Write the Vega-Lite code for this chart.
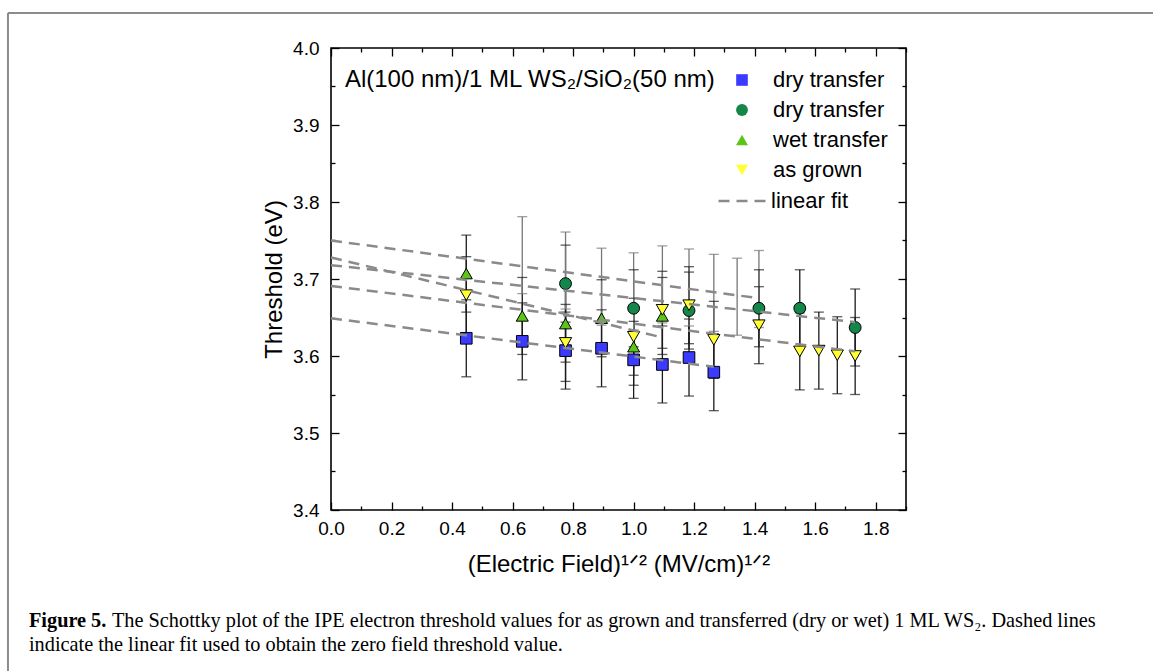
{
  "$schema": "https://vega.github.io/schema/vega-lite/v6.json",
  "width": 575,
  "height": 462,
  "autosize": {"type": "none"},
  "padding": {"left": 331, "top": 48, "right": 247, "bottom": 161},
  "background": "white",
  "config": {
    "view": {"stroke": "black", "strokeWidth": 1.6},
    "axis": {"grid": false, "domain": false, "labelFont": "Liberation Sans", "titleFont": "Liberation Sans", "labelColor": "black", "titleColor": "black", "tickColor": "black", "tickWidth": 1.3, "labelFontSize": 19, "titleFontSize": 24, "titleFontWeight": "normal", "labelFlush": false, "labelOverlap": false, "labelBound": false},
    "legend": {"labelFont": "Liberation Sans", "labelFontSize": 22, "labelColor": "black", "padding": 0},
    "text": {"font": "Liberation Sans"}
  },
  "datasets": {
    "points": [
      {"series": "dry transfer A", "x": 0.447, "y": 3.623},
      {"series": "dry transfer A", "x": 0.632, "y": 3.619},
      {"series": "dry transfer A", "x": 0.775, "y": 3.607},
      {"series": "dry transfer A", "x": 0.894, "y": 3.610},
      {"series": "dry transfer A", "x": 1.0, "y": 3.595},
      {"series": "dry transfer A", "x": 1.095, "y": 3.589},
      {"series": "dry transfer A", "x": 1.183, "y": 3.598},
      {"series": "dry transfer A", "x": 1.265, "y": 3.579},
      {"series": "dry transfer B", "x": 0.775, "y": 3.694},
      {"series": "dry transfer B", "x": 1.0, "y": 3.662},
      {"series": "dry transfer B", "x": 1.183, "y": 3.659},
      {"series": "dry transfer B", "x": 1.414, "y": 3.662},
      {"series": "dry transfer B", "x": 1.549, "y": 3.662},
      {"series": "dry transfer B", "x": 1.732, "y": 3.637},
      {"series": "wet transfer", "x": 0.447, "y": 3.707},
      {"series": "wet transfer", "x": 0.632, "y": 3.652},
      {"series": "wet transfer", "x": 0.775, "y": 3.642},
      {"series": "wet transfer", "x": 0.894, "y": 3.649},
      {"series": "wet transfer", "x": 1.0, "y": 3.612},
      {"series": "wet transfer", "x": 1.095, "y": 3.652},
      {"series": "as grown", "x": 0.447, "y": 3.679},
      {"series": "as grown", "x": 0.775, "y": 3.617},
      {"series": "as grown", "x": 1.0, "y": 3.625},
      {"series": "as grown", "x": 1.095, "y": 3.660},
      {"series": "as grown", "x": 1.183, "y": 3.666},
      {"series": "as grown", "x": 1.265, "y": 3.621},
      {"series": "as grown", "x": 1.414, "y": 3.640},
      {"series": "as grown", "x": 1.549, "y": 3.606},
      {"series": "as grown", "x": 1.612, "y": 3.607},
      {"series": "as grown", "x": 1.673, "y": 3.601},
      {"series": "as grown", "x": 1.732, "y": 3.600}
    ],
    "bars": [
      {"kind": "marker", "x": 0.447, "lo": 3.573, "hi": 3.673},
      {"kind": "marker", "x": 0.632, "lo": 3.569, "hi": 3.669},
      {"kind": "marker", "x": 0.775, "lo": 3.557, "hi": 3.657},
      {"kind": "marker", "x": 0.894, "lo": 3.560, "hi": 3.660},
      {"kind": "marker", "x": 1.0, "lo": 3.545, "hi": 3.645},
      {"kind": "marker", "x": 1.095, "lo": 3.539, "hi": 3.639},
      {"kind": "marker", "x": 1.183, "lo": 3.548, "hi": 3.648},
      {"kind": "marker", "x": 1.265, "lo": 3.529, "hi": 3.629},
      {"kind": "marker", "x": 0.775, "lo": 3.644, "hi": 3.744},
      {"kind": "marker", "x": 1.0, "lo": 3.612, "hi": 3.712},
      {"kind": "marker", "x": 1.183, "lo": 3.609, "hi": 3.709},
      {"kind": "marker", "x": 1.414, "lo": 3.612, "hi": 3.712},
      {"kind": "marker", "x": 1.549, "lo": 3.612, "hi": 3.712},
      {"kind": "marker", "x": 1.732, "lo": 3.587, "hi": 3.687},
      {"kind": "marker", "x": 0.447, "lo": 3.657, "hi": 3.757},
      {"kind": "marker", "x": 0.632, "lo": 3.602, "hi": 3.702},
      {"kind": "marker", "x": 0.775, "lo": 3.592, "hi": 3.692},
      {"kind": "marker", "x": 0.894, "lo": 3.599, "hi": 3.699},
      {"kind": "marker", "x": 1.0, "lo": 3.562, "hi": 3.662},
      {"kind": "marker", "x": 1.095, "lo": 3.602, "hi": 3.702},
      {"kind": "marker", "x": 0.447, "lo": 3.629, "hi": 3.729},
      {"kind": "marker", "x": 0.775, "lo": 3.567, "hi": 3.667},
      {"kind": "marker", "x": 1.0, "lo": 3.575, "hi": 3.675},
      {"kind": "marker", "x": 1.095, "lo": 3.610, "hi": 3.710},
      {"kind": "marker", "x": 1.183, "lo": 3.616, "hi": 3.716},
      {"kind": "marker", "x": 1.265, "lo": 3.571, "hi": 3.671},
      {"kind": "marker", "x": 1.414, "lo": 3.590, "hi": 3.690},
      {"kind": "marker", "x": 1.549, "lo": 3.556, "hi": 3.656},
      {"kind": "marker", "x": 1.612, "lo": 3.557, "hi": 3.657},
      {"kind": "marker", "x": 1.673, "lo": 3.551, "hi": 3.651},
      {"kind": "marker", "x": 1.732, "lo": 3.550, "hi": 3.650},
      {"kind": "hidden", "x": 0.632, "lo": 3.681, "hi": 3.781},
      {"kind": "hidden", "x": 0.775, "lo": 3.661, "hi": 3.761},
      {"kind": "hidden", "x": 0.894, "lo": 3.640, "hi": 3.740},
      {"kind": "hidden", "x": 1.0, "lo": 3.634, "hi": 3.734},
      {"kind": "hidden", "x": 1.095, "lo": 3.643, "hi": 3.743},
      {"kind": "hidden", "x": 1.183, "lo": 3.639, "hi": 3.739},
      {"kind": "hidden", "x": 1.265, "lo": 3.632, "hi": 3.732},
      {"kind": "hidden", "x": 1.342, "lo": 3.627, "hi": 3.727},
      {"kind": "hidden", "x": 1.414, "lo": 3.637, "hi": 3.737}
    ],
    "fits": [
      {"fit": "dry transfer A", "x": 0, "y": 3.649},
      {"fit": "dry transfer A", "x": 1.265, "y": 3.586},
      {"fit": "wet transfer", "x": 0, "y": 3.728},
      {"fit": "wet transfer", "x": 1.095, "y": 3.624},
      {"fit": "dry transfer B", "x": 0, "y": 3.718},
      {"fit": "dry transfer B", "x": 1.732, "y": 3.644},
      {"fit": "as grown", "x": 0, "y": 3.691},
      {"fit": "as grown", "x": 1.732, "y": 3.606},
      {"fit": "hidden", "x": 0, "y": 3.750},
      {"fit": "hidden", "x": 1.414, "y": 3.675}
    ]
  },
  "layer": [
    {
      "data": {"name": "bars"},
      "mark": {"type": "rule", "strokeWidth": 1.3},
      "encoding": {
        "x": {"field": "x", "type": "quantitative", "scale": {"domain": [0, 1.9], "nice": false, "zero": false},
          "axis": {"orient": "bottom", "values": [0, 0.2, 0.4, 0.6, 0.8, 1, 1.2, 1.4, 1.6, 1.8], "format": ".1f", "ticks": false, "labelPadding": 9, "title": "(Electric Field)¹ᐟ² (MV/cm)¹ᐟ²", "titleY": 61, "titleBaseline": "alphabetic"}},
        "y": {"field": "lo", "type": "quantitative", "scale": {"domain": [3.4, 4.0], "nice": false, "zero": false},
          "axis": {"orient": "left", "values": [3.4, 3.5, 3.6, 3.7, 3.8, 3.9, 4.0], "format": ".1f", "ticks": false, "labelPadding": 12, "title": "Threshold (eV)", "titleX": -57, "titleY": 231, "titleAngle": -90, "titleBaseline": "middle", "titleAlign": "center"}},
        "y2": {"field": "hi"},
        "color": {"field": "kind", "type": "nominal", "scale": {"domain": ["marker", "hidden"], "range": ["#1a1a1a", "#777777"]}, "legend": null}
      }
    },
    {
      "data": {"name": "bars"},
      "mark": {"type": "tick", "orient": "horizontal", "size": 10, "thickness": 1.3},
      "encoding": {
        "x": {"field": "x", "type": "quantitative", "axis": {"orient": "bottom", "values": [0, 0.2, 0.4, 0.6, 0.8, 1, 1.2, 1.4, 1.6, 1.8], "labels": false, "tickSize": -8, "title": null}},
        "y": {"field": "lo", "type": "quantitative", "axis": {"orient": "left", "values": [3.4, 3.5, 3.6, 3.7, 3.8, 3.9, 4.0], "labels": false, "tickSize": -8, "title": null}},
        "color": {"field": "kind", "type": "nominal", "legend": null}
      }
    },
    {
      "data": {"name": "bars"},
      "mark": {"type": "tick", "orient": "horizontal", "size": 10, "thickness": 1.3},
      "encoding": {
        "x": {"field": "x", "type": "quantitative", "axis": {"orient": "bottom", "values": [0.1, 0.3, 0.5, 0.7, 0.9, 1.1, 1.3, 1.5, 1.7, 1.9], "labels": false, "tickSize": -4, "title": null}},
        "y": {"field": "hi", "type": "quantitative", "axis": {"orient": "left", "values": [3.45, 3.55, 3.65, 3.75, 3.85, 3.95], "labels": false, "tickSize": -4, "title": null}},
        "color": {"field": "kind", "type": "nominal", "legend": null}
      }
    },
    {
      "data": {"name": "points"},
      "mark": {"type": "point", "filled": true, "stroke": "black", "strokeWidth": 1, "opacity": 1},
      "encoding": {
        "x": {"field": "x", "type": "quantitative", "axis": {"orient": "top", "values": [0, 0.2, 0.4, 0.6, 0.8, 1, 1.2, 1.4, 1.6, 1.8], "labels": false, "tickSize": -8, "title": null}},
        "y": {"field": "y", "type": "quantitative", "axis": {"orient": "right", "values": [3.4, 3.5, 3.6, 3.7, 3.8, 3.9, 4.0], "labels": false, "tickSize": -8, "title": null}},
        "size": {"field": "series", "type": "nominal", "scale": {"domain": ["dry transfer A", "dry transfer B", "wet transfer", "as grown"], "range": [135, 150, 200, 200]},
          "legend": {"orient": "none", "legendX": 400, "legendY": 21, "title": null, "labelExpr": "substring(datum.label, 0, 3) == 'dry' ? 'dry transfer' : datum.label", "symbolStrokeColor": "black", "symbolStrokeWidth": 1, "labelOffset": 20, "rowPadding": 8, "labelBaseline": "middle"}},
        "shape": {"field": "series", "type": "nominal",
          "scale": {"domain": ["dry transfer A", "dry transfer B", "wet transfer", "as grown"], "range": ["square", "circle", "triangle-up", "triangle-down"]},
          "legend": {"orient": "none", "legendX": 400, "legendY": 21, "title": null, "labelExpr": "substring(datum.label, 0, 3) == 'dry' ? 'dry transfer' : datum.label", "symbolStrokeColor": "black", "symbolStrokeWidth": 1, "labelOffset": 20, "rowPadding": 8, "labelBaseline": "middle"}},
        "fill": {"field": "series", "type": "nominal",
          "scale": {"domain": ["dry transfer A", "dry transfer B", "wet transfer", "as grown"], "range": ["#3b3bff", "#14864a", "#5dc51a", "#ffff33"]},
          "legend": {"orient": "none", "legendX": 400, "legendY": 21, "title": null, "labelExpr": "substring(datum.label, 0, 3) == 'dry' ? 'dry transfer' : datum.label", "symbolStrokeColor": "black", "symbolStrokeWidth": 1, "labelOffset": 20, "rowPadding": 8, "labelBaseline": "middle"}}
      }
    },
    {
      "data": {"name": "fits"},
      "mark": {"type": "line", "strokeWidth": 2.5, "color": "#8a8a8a"},
      "encoding": {
        "x": {"field": "x", "type": "quantitative", "axis": {"orient": "top", "values": [0.1, 0.3, 0.5, 0.7, 0.9, 1.1, 1.3, 1.5, 1.7, 1.9], "labels": false, "tickSize": -4, "title": null}},
        "y": {"field": "y", "type": "quantitative", "axis": {"orient": "right", "values": [3.45, 3.55, 3.65, 3.75, 3.85, 3.95], "labels": false, "tickSize": -4, "title": null}},
        "detail": {"field": "fit"},
        "strokeDash": {"datum": "linear fit", "type": "nominal", "scale": {"domain": ["linear fit"], "range": [[11, 7]]},
          "legend": {"orient": "none", "legendX": 386, "legendY": 127, "title": null, "symbolType": "stroke", "symbolSize": 2400, "symbolStrokeWidth": 2.5, "symbolStrokeColor": "#8a8a8a", "labelOffset": 2, "labelBaseline": "middle"}}
      }
    },
    {
      "data": {"values": [{"label": "Al(100 nm)/1 ML WS₂/SiO₂(50 nm)"}]},
      "mark": {"type": "text", "align": "left", "baseline": "middle", "fontSize": 24, "font": "Liberation Sans", "color": "black"},
      "encoding": {
        "x": {"datum": 0.046, "type": "quantitative", "axis": null},
        "y": {"datum": 3.958, "type": "quantitative", "axis": null},
        "text": {"field": "label"}
      }
    },
    {
      "data": {"values": [{"label": "Figure 5."}]},
      "mark": {"type": "text", "align": "left", "baseline": "middle", "fontSize": 20.3, "font": "Liberation Serif", "fontWeight": "bold", "color": "black"},
      "encoding": {
        "x": {"datum": -0.998, "type": "quantitative", "axis": null},
        "y": {"datum": 3.2558, "type": "quantitative", "axis": null},
        "text": {"field": "label"}
      }
    },
    {
      "data": {"values": [{"label": "The Schottky plot of the IPE electron threshold values for as grown and transferred (dry or wet) 1 ML WS₂. Dashed lines"}]},
      "mark": {"type": "text", "align": "left", "baseline": "middle", "fontSize": 20.3, "font": "Liberation Serif", "color": "black", "dx": 83},
      "encoding": {
        "x": {"datum": -0.998, "type": "quantitative", "axis": null},
        "y": {"datum": 3.2558, "type": "quantitative", "axis": null},
        "text": {"field": "label"}
      }
    },
    {
      "data": {"values": [{"label": "indicate the linear fit used to obtain the zero field threshold value."}]},
      "mark": {"type": "text", "align": "left", "baseline": "middle", "fontSize": 20.3, "font": "Liberation Serif", "color": "black"},
      "encoding": {
        "x": {"datum": -0.998, "type": "quantitative", "axis": null},
        "y": {"datum": 3.2247, "type": "quantitative", "axis": null},
        "text": {"field": "label"}
      }
    },
    {
      "data": {"values": [{}]},
      "mark": {"type": "rule", "color": "#8c8c8c", "strokeWidth": 2},
      "encoding": {
        "x": {"datum": -1.0674, "type": "quantitative", "axis": null},
        "x2": {"datum": 2.72},
        "y": {"datum": 4.0455, "type": "quantitative", "axis": null}
      }
    },
    {
      "data": {"values": [{}]},
      "mark": {"type": "rule", "color": "#8c8c8c", "strokeWidth": 2},
      "encoding": {
        "x": {"datum": -1.0674, "type": "quantitative", "axis": null},
        "y": {"datum": 4.0455, "type": "quantitative", "axis": null},
        "y2": {"datum": 3.18}
      }
    }
  ],
  "resolve": {"axis": {"x": "independent", "y": "independent"}}
}
